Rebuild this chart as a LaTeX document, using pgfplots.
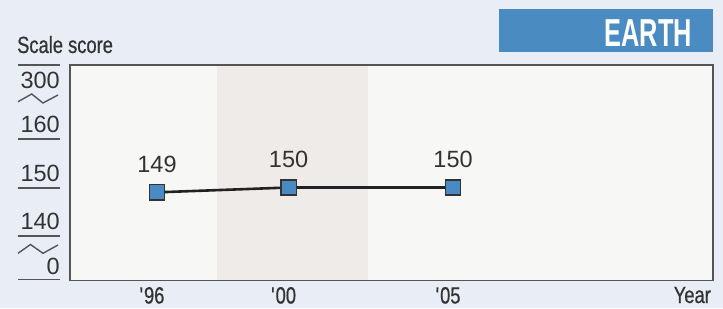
\documentclass[border=0pt]{standalone}
\usepackage{fontspec}
\setmainfont{Liberation Sans}
\newfontfamily\condfont{Liberation Sans}[FakeStretch=0.78, FakeBold=0.6, Ligatures=TeXOff]
\newfontfamily\titlefont{Liberation Sans}[FakeStretch=0.65]
\usepackage{pgfplots}
\pgfplotsset{compat=1.18}
\definecolor{pagebg}{HTML}{E9EEF6}
\definecolor{plotbg}{HTML}{F7F7F5}
\definecolor{bandcol}{HTML}{EEEBE8}
\definecolor{framegray}{HTML}{555555}
\definecolor{textgray}{HTML}{333333}
\definecolor{markblue}{HTML}{4A8AC4}
\definecolor{titleblue}{HTML}{4A8BC2}
\definecolor{linecol}{HTML}{222222}
\begin{document}
\begin{tikzpicture}[x=1pt,y=1pt]
\fill[pagebg] (0,0) rectangle (723,308);
\fill[titleblue] (499,256) rectangle (713,299);
\node[anchor=base east, inner sep=0pt, text=white, font=\titlefont\bfseries\fontsize{39}{40}\selectfont] at (692,261.3) {EARTH};
\node[anchor=base west, inner sep=0pt, text=textgray, font=\condfont\fontsize{23.5}{28}\selectfont] at (17,255) {Scale score};
\begin{axis}[
  at={(70pt,27.5pt)}, anchor=south west, scale only axis,
  width=643pt, height=215.5pt,
  xmin=1993.356, xmax=2012.9, ymin=130.825, ymax=175.258,
  axis background/.style={fill=plotbg},
  axis line style={draw=framegray, line width=1.5pt},
  axis on top, clip=false,
  /pgf/number format/assume math mode=true,
  xtick={1996,2000,2005},
  xticklabels={\textquotesingle 96,\textquotesingle 00,\textquotesingle 05},
  xtick style={draw=none}, ytick style={draw=none},
  xticklabel style={anchor=base, inner sep=0pt, yshift=-23pt, xshift=-5pt, text=textgray, font=\condfont\fontsize{23.5}{28}\selectfont},
  ytick={130.825,140,150,160},
  yticklabels={0,140,150,160},
  yticklabel style={anchor=south east, inner sep=0pt, xshift=-10pt, yshift=6pt, text=textgray, font=\fontsize{23.5}{28}\selectfont},
  extra y ticks={175.258},
  extra y tick labels={300},
  extra y tick style={yticklabel style={anchor=north east, yshift=-13pt}},
  xlabel={Year},
  xlabel style={at={(rel axis cs:1,0)}, anchor=base east, inner sep=0pt, yshift=-22.5pt, xshift=-2pt, text=textgray, font=\condfont\fontsize{23.5}{28}\selectfont},
]
\fill[bandcol] (axis cs:1997.824,130.825) rectangle (axis cs:2002.413,175.258);
\addplot[draw=linecol, line width=2.6pt,
  mark=square*, mark size=7.6pt,
  mark options={fill=markblue, draw=textgray, line width=1.3pt, solid},
  nodes near coords, point meta=explicit symbolic,
  every node near coord/.style={anchor=base, inner sep=0pt, yshift=20pt, text=textgray, font=\fontsize{23.5}{28}\selectfont}]
  coordinates {(1996,149)[149] (2000,150)[150] (2005,150)[150]};
\end{axis}
\begin{scope}[draw=framegray, line width=1.5pt]
\draw (18,243) -- (60,243);
\draw (18,169) -- (60,169);
\draw (18,120) -- (60,120);
\draw (18,72) -- (60,72);
\draw (18,28.5) -- (60,28.5);
\draw[line width=1.4pt, line join=miter] (18,206.3) -- (31.7,214) -- (43,205) -- (58,213);
\draw[line width=1.4pt, line join=miter] (18,54.7) -- (30.5,63.5) -- (43,54.7) -- (58,63);
\end{scope}
\pgfresetboundingbox
\useasboundingbox (0,0) rectangle (723,308);
\end{tikzpicture}
\end{document}
